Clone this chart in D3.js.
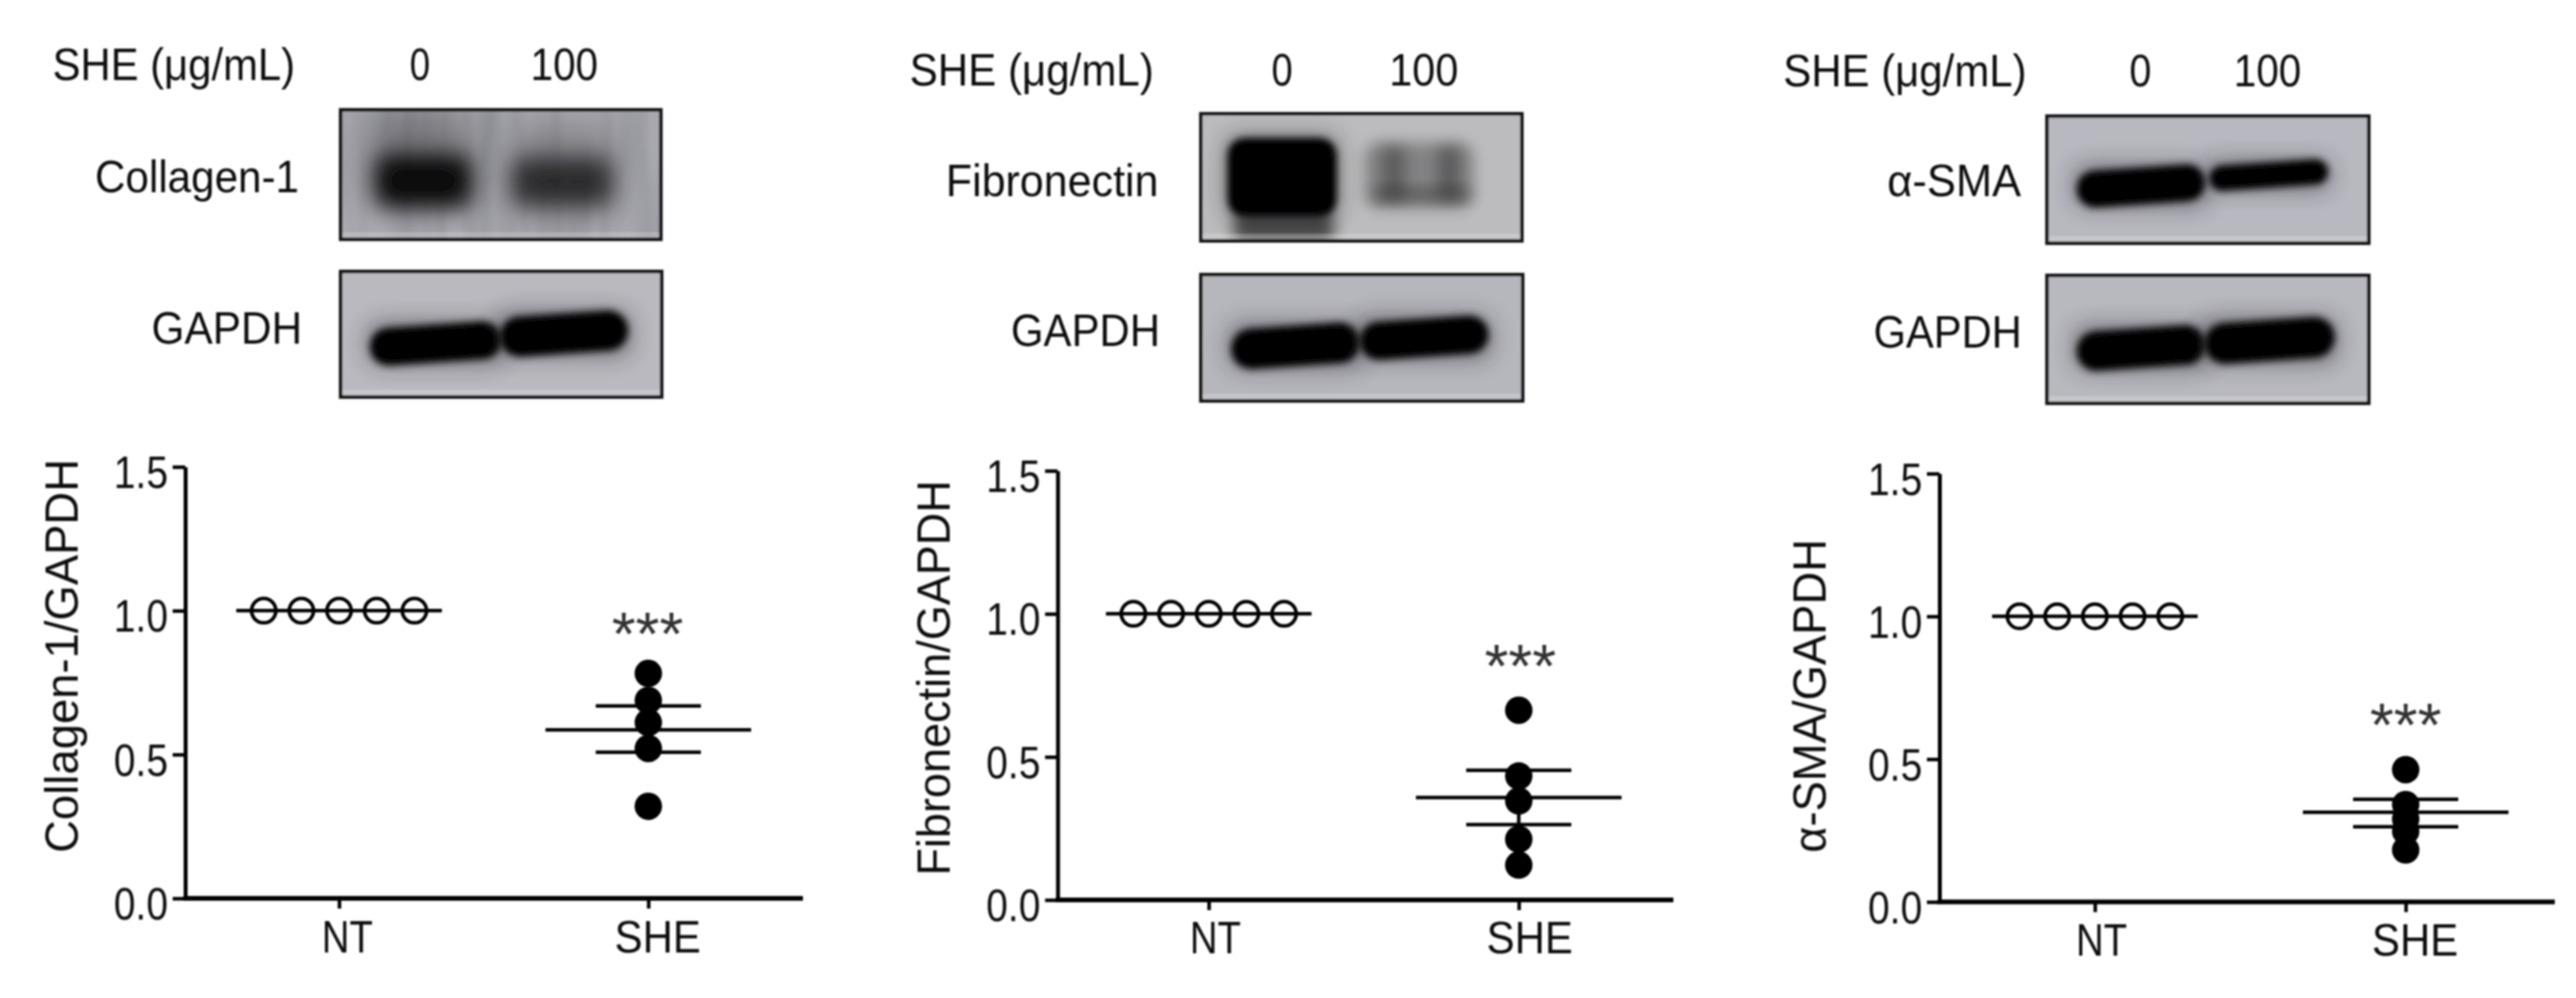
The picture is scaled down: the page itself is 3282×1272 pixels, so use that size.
<!DOCTYPE html>
<html>
<head>
<meta charset="utf-8">
<style>
  body { margin: 0; background: #fff; }
  text { font-family: "Liberation Sans", Arial, sans-serif; fill: #111; }
</style>
<script src="https://cdn.jsdelivr.net/npm/d3@7"></script>
</head>
<body>
<svg id="figure"></svg>
<script>
const groups = ["NT", "SHE"];
const yTicks = [0, 0.5, 1, 1.5];
const doseLabels = ["0", "100"];

const collagenNT = [1, 1, 1, 1, 1];
const collagenSHE = [0.782, 0.688, 0.611, 0.521, 0.32];
const collagenMean = [1, 0.586];
const collagenErr = [0.508, 0.669];

const fibronectinNT = [1, 1, 1, 1, 1];
const fibronectinSHE = [0.663, 0.433, 0.346, 0.212, 0.122];
const fibronectinMean = [1, 0.358];
const fibronectinErr = [0.263, 0.453];

const smaNT = [1, 1, 1, 1, 1];
const smaSHE = [0.463, 0.341, 0.29, 0.247, 0.182];
const smaMean = [1, 0.314];
const smaErr = [0.263, 0.359];

const figure = { width: 3282, height: 1272 };

// layout of each column in pixels
const panels = [
  {
    protein: "Collagen-1", yTitle: "Collagen-1/GAPDH",
    nt: collagenNT, she: collagenSHE, mean: collagenMean, err: collagenErr,
    axisX: 236, axisEnd: 1023, ntX: 432, sheX: 826, top: 595, bottom: 1145, catBase: 1214,
    yTitleX: 99, yTitleY: 1087, yTitleLen: 502,
    starX: 825, starTop: 779,
    shePos: [67, 101.6, 309], dose: [[522, 26], [676, 86]],
    protPos: [121, 244.5, 260], gapdhPos: [193, 438, 192],
    blot1: [434, 140, 408, 165], blot2: [434, 346, 409, 160],
    ntLabelX: 410, sheLabelX: 783,
    bg1: "#a8a8ae", bg2: "#b9b9bf",
    bands1: [
      { cx: 0.26, cy: 0.38, w: 0.32, h: 0.75, o: 0.25, blur: 22, r: 0 },
      { cx: 0.258, cy: 0.55, w: 0.3, h: 0.4, o: 0.92, blur: 14, r: 0 },
      { cx: 0.69, cy: 0.48, w: 0.32, h: 0.7, o: 0.22, blur: 22, r: 0 },
      { cx: 0.691, cy: 0.556, w: 0.31, h: 0.36, o: 0.66, blur: 14, r: 0 }
    ],
    bands2: [
      { cx: 0.296, cy: 0.574, w: 0.41, h: 0.3, o: 1, blur: 5, r: -4 },
      { cx: 0.696, cy: 0.495, w: 0.4, h: 0.32, o: 1, blur: 5, r: -4 }
    ],
    streaks: true
  },
  {
    protein: "Fibronectin", yTitle: "Fibronectin/GAPDH",
    nt: fibronectinNT, she: fibronectinSHE, mean: fibronectinMean, err: fibronectinErr,
    axisX: 1347.5, axisEnd: 2132, ntX: 1540, sheX: 1935, top: 600, bottom: 1147, catBase: 1215,
    yTitleX: 1210, yTitleY: 1116, yTitleLen: 504,
    starX: 1937, starTop: 820,
    shePos: [1159, 108.5, 311], dose: [[1620, 27], [1770, 88]],
    protPos: [1205, 249.7, 271], gapdhPos: [1288, 441, 190],
    blot1: [1530, 145, 409, 162], blot2: [1530, 350, 410, 161],
    ntLabelX: 1516, sheLabelX: 1894,
    bg1: "#bcbcbe", bg2: "#b6b6bd",
    bands1: [
      { cx: 0.253, cy: 0.5, w: 0.34, h: 0.62, o: 1, blur: 5, r: 0 },
      { cx: 0.258, cy: 0.89, w: 0.31, h: 0.24, o: 0.6, blur: 9, r: 0 },
      { cx: 0.68, cy: 0.487, w: 0.34, h: 0.52, o: 0.3, blur: 9, r: 0 },
      { cx: 0.6, cy: 0.466, w: 0.07, h: 0.43, o: 0.28, blur: 9, r: 0 },
      { cx: 0.773, cy: 0.466, w: 0.07, h: 0.43, o: 0.28, blur: 9, r: 0 },
      { cx: 0.688, cy: 0.637, w: 0.3, h: 0.1, o: 0.3, blur: 9, r: 0 }
    ],
    bands2: [
      { cx: 0.294, cy: 0.564, w: 0.4, h: 0.32, o: 1, blur: 5, r: -4 },
      { cx: 0.694, cy: 0.5, w: 0.4, h: 0.3, o: 1, blur: 5, r: -4 }
    ]
  },
  {
    protein: "\u03b1-SMA", yTitle: "\u03b1-SMA/GAPDH",
    nt: smaNT, she: smaSHE, mean: smaMean, err: smaErr,
    axisX: 2471, axisEnd: 3255, ntX: 2669, sheX: 3065, top: 603.6, bottom: 1149.5, catBase: 1218,
    yTitleX: 2326, yTitleY: 1087, yTitleLen: 400,
    starX: 3065, starTop: 895,
    shePos: [2272, 110, 310], dose: [[2713, 28], [2846, 86]],
    protPos: [2404.5, 250, 170.5], gapdhPos: [2387, 442.5, 189],
    blot1: [2608, 148, 410, 162], blot2: [2608, 351, 410, 163],
    ntLabelX: 2645, sheLabelX: 3022,
    bg1: "#b8b8c0", bg2: "#b8b8bf",
    bands1: [
      { cx: 0.292, cy: 0.549, w: 0.4, h: 0.29, o: 1, blur: 5, r: -4 },
      { cx: 0.689, cy: 0.464, w: 0.37, h: 0.2, o: 1, blur: 5, r: -4 }
    ],
    bands2: [
      { cx: 0.292, cy: 0.568, w: 0.4, h: 0.31, o: 1, blur: 5, r: -4 },
      { cx: 0.692, cy: 0.508, w: 0.405, h: 0.32, o: 1, blur: 5, r: -4 }
    ]
  }
];

const svg = d3.select("#figure")
  .attr("width", figure.width)
  .attr("height", figure.height);

const defs = svg.append("defs");

const addBlur = (id, dev) => {
  defs.append("filter")
    .attr("id", id)
    .attr("x", "-60%").attr("y", "-60%")
    .attr("width", "220%").attr("height", "220%")
    .append("feGaussianBlur")
    .attr("stdDeviation", dev);
};
[5, 9, 14, 22].forEach((d) => addBlur("blur" + d, d));
addBlur("soft", 0.8);

// vertical film streaks on the collagen blot
const streak = defs.append("filter").attr("id", "streak");
streak.append("feTurbulence")
  .attr("type", "fractalNoise")
  .attr("baseFrequency", "0.03 0.004")
  .attr("numOctaves", 2)
  .attr("seed", 4);
streak.append("feColorMatrix")
  .attr("values", "0 0 0 0 0.1  0 0 0 0 0.1  0 0 0 0 0.14  1.6 0 0 0 -0.55");

const root = svg.append("g").attr("filter", "url(#soft)");

const addText = (parent, str, x, y, size, length) => {
  return parent.append("text")
    .attr("x", x)
    .attr("y", y)
    .attr("font-size", size)
    .attr("textLength", length)
    .attr("lengthAdjust", "spacingAndGlyphs")
    .text(str);
};

const drawBlot = (box, bg, bands, id, streaks) => {
  const [bx, by, bw, bh] = box;
  const fx = d3.scaleLinear().domain([0, 1]).range([bx, bx + bw]);
  const fy = d3.scaleLinear().domain([0, 1]).range([by, by + bh]);

  defs.append("clipPath").attr("id", id)
    .append("rect")
    .attr("x", bx).attr("y", by)
    .attr("width", bw).attr("height", bh);

  const g = root.append("g").attr("clip-path", `url(#${id})`);
  g.append("rect")
    .attr("x", bx).attr("y", by)
    .attr("width", bw).attr("height", bh)
    .attr("fill", bg);

  if (streaks) {
    g.append("rect")
      .attr("x", bx).attr("y", by)
      .attr("width", bw).attr("height", bh)
      .attr("filter", "url(#streak)")
      .attr("opacity", 0.3);
  }

  bands.forEach((b) => {
    const w = b.w * bw;
    const h = b.h * bh;
    const cx = fx(b.cx);
    const cy = fy(b.cy);
    if (b.blur === 5 && b.o === 1) {
      // halo around a saturated band
      g.append("rect")
        .attr("x", cx - w / 2 - 4).attr("y", cy - h / 2 - 4)
        .attr("width", w + 8).attr("height", h + 8)
        .attr("rx", 18)
        .attr("fill", "#202028")
        .attr("opacity", 0.45)
        .attr("filter", "url(#blur14)");
    }
    g.append("rect")
      .attr("x", cx - w / 2).attr("y", cy - h / 2)
      .attr("width", w).attr("height", h)
      .attr("rx", Math.min(w, h) * (b.r ? 0.5 : 0.22))
      .attr("transform", `rotate(${b.r} ${cx} ${cy})`)
      .attr("fill", "#020204")
      .attr("opacity", b.o)
      .attr("filter", `url(#blur${b.blur})`);
  });

  // pale strip the film leaves above the lower edge
  g.append("rect")
    .attr("x", bx).attr("y", by + bh - 9)
    .attr("width", bw).attr("height", 7)
    .attr("fill", "#fff")
    .attr("opacity", 0.2);

  root.append("rect")
    .attr("x", bx).attr("y", by)
    .attr("width", bw).attr("height", bh)
    .attr("fill", "none")
    .attr("stroke", "#141414")
    .attr("stroke-width", 4.5);
};

const drawPlot = (p) => {
  const x = d3.scalePoint().domain(groups).range([p.ntX, p.sheX]);
  const y = d3.scaleLinear().domain([0, 1.5]).range([p.bottom, p.top]);
  const swarm = d3.scaleLinear().domain([0, 4]).range([-96, 96]);

  const yAxis = root.append("g")
    .attr("transform", `translate(${p.axisX},0)`)
    .call(d3.axisLeft(y).tickValues(yTicks).tickFormat(d3.format(".1f")).tickSize(16).tickPadding(6).tickSizeOuter(0));
  yAxis.select(".domain").attr("stroke", "#000").attr("stroke-width", 5);
  yAxis.selectAll(".tick line").attr("stroke", "#000").attr("stroke-width", 4.5);
  yAxis.selectAll(".tick text")
    .attr("y", 8)
    .attr("font-size", 58)
    .attr("textLength", 69)
    .attr("lengthAdjust", "spacingAndGlyphs")
    .attr("font-family", "Liberation Sans")
    .attr("fill", "#111");

  const xAxis = root.append("g")
    .attr("transform", `translate(0,${p.bottom})`)
    .call(d3.axisBottom(x).tickSize(13).tickSizeOuter(0).tickFormat(""));
  xAxis.select(".domain").remove();
  xAxis.selectAll(".tick line").attr("stroke", "#000").attr("stroke-width", 4.5);
  xAxis.append("line")
    .attr("x1", p.axisX - 2.5).attr("x2", p.axisEnd)
    .attr("stroke", "#000")
    .attr("stroke-width", 6);

  addText(root, "NT", p.ntLabelX, p.catBase, 57, 65);
  addText(root, "SHE", p.sheLabelX, p.catBase, 57, 110);

  root.append("text")
    .attr("transform", `translate(${p.yTitleX},${p.yTitleY}) rotate(-90)`)
    .attr("font-size", 60)
    .attr("textLength", p.yTitleLen)
    .attr("lengthAdjust", "spacingAndGlyphs")
    .text(p.yTitle);

  // open circles for NT, filled for SHE
  root.append("g").selectAll("circle")
    .data(p.nt)
    .join("circle")
    .attr("cx", (d, i) => x("NT") + swarm(i))
    .attr("cy", (d) => y(d))
    .attr("r", 15.5)
    .attr("fill", "none")
    .attr("stroke", "#000")
    .attr("stroke-width", 4.5);

  root.append("g").selectAll("circle")
    .data(p.she)
    .join("circle")
    .attr("cx", x("SHE"))
    .attr("cy", (d) => y(d))
    .attr("r", 17.5)
    .attr("fill", "#000");

  const lines = root.append("g").attr("stroke", "#000").attr("stroke-width", 4.5);
  groups.forEach((name, i) => {
    lines.append("line")
      .attr("x1", x(name) - 131).attr("x2", x(name) + 131)
      .attr("y1", y(p.mean[i])).attr("y2", y(p.mean[i]));
  });
  lines.append("line")
    .attr("x1", x("SHE")).attr("x2", x("SHE"))
    .attr("y1", y(p.err[0])).attr("y2", y(p.err[1]));
  p.err.forEach((e) => {
    lines.append("line")
      .attr("x1", x("SHE") - 67).attr("x2", x("SHE") + 67)
      .attr("y1", y(e)).attr("y2", y(e));
  });

  root.append("text")
    .attr("x", p.starX)
    .attr("y", p.starTop + 56)
    .attr("text-anchor", "middle")
    .attr("font-size", 78)
    .style("fill", "#333")
    .text("***");
};

panels.forEach((p, i) => {
  addText(root, "SHE (\u03bcg/mL)", p.shePos[0], p.shePos[1], 58, p.shePos[2]);
  doseLabels.forEach((d, j) => {
    addText(root, d, p.dose[j][0], p.shePos[1], 58, p.dose[j][1]);
  });
  addText(root, p.protein, p.protPos[0], p.protPos[1], 58, p.protPos[2]);
  addText(root, "GAPDH", p.gapdhPos[0], p.gapdhPos[1], 58, p.gapdhPos[2]);

  drawBlot(p.blot1, p.bg1, p.bands1, "clip-a" + i, p.streaks);
  drawBlot(p.blot2, p.bg2, p.bands2, "clip-b" + i, false);
  drawPlot(p);
});
</script>
</body>
</html>
